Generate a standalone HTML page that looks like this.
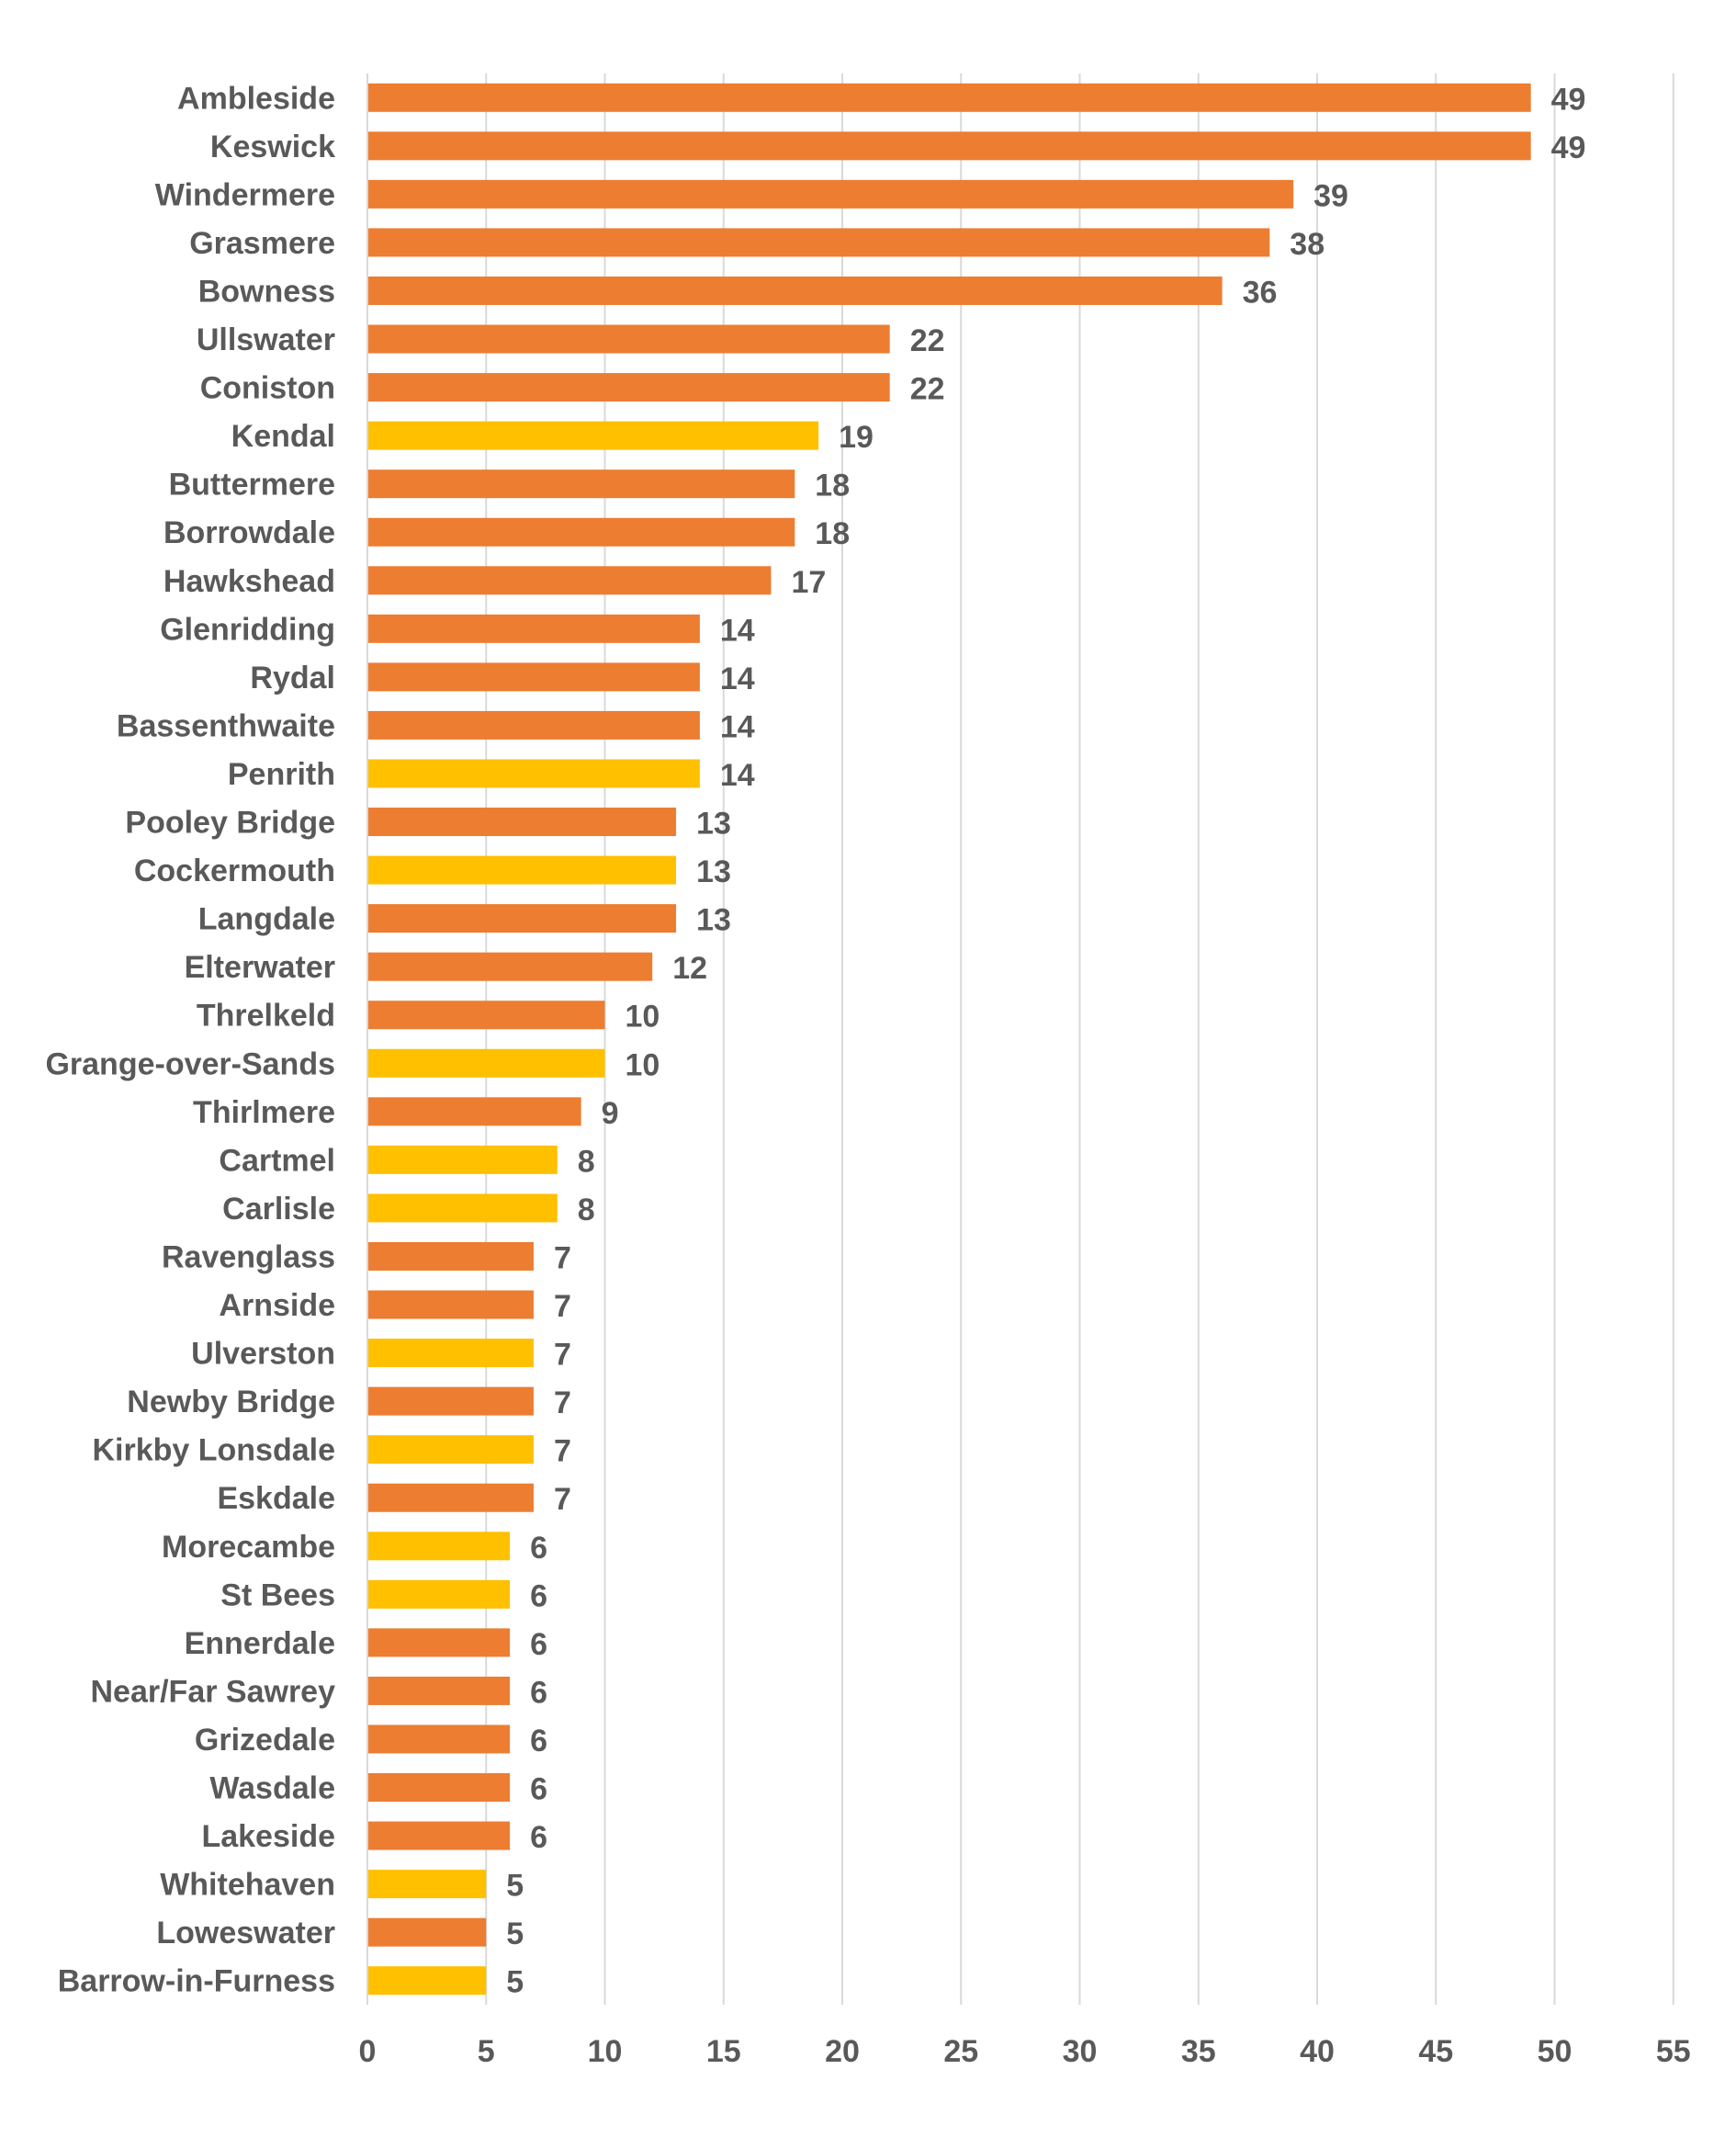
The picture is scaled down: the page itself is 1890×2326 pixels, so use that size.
<!DOCTYPE html>
<html><head><meta charset="utf-8"><style>
html,body{margin:0;padding:0;background:#fff;}
svg{display:block;}
text{font-family:"Liberation Sans",sans-serif;font-weight:bold;fill:#595959;}
</style></head><body>
<svg id="chart" width="1890" height="2326" viewBox="0 0 1890 2326" xmlns="http://www.w3.org/2000/svg">
<g id="grid"></g>
<g id="bars"></g>
<g id="labels"></g>
<g id="values"></g>
<g id="ticks"></g>
</svg>
<script>
const categories = ["Ambleside","Keswick","Windermere","Grasmere","Bowness","Ullswater","Coniston","Kendal","Buttermere","Borrowdale","Hawkshead","Glenridding","Rydal","Bassenthwaite","Penrith","Pooley Bridge","Cockermouth","Langdale","Elterwater","Threlkeld","Grange-over-Sands","Thirlmere","Cartmel","Carlisle","Ravenglass","Arnside","Ulverston","Newby Bridge","Kirkby Lonsdale","Eskdale","Morecambe","St Bees","Ennerdale","Near/Far Sawrey","Grizedale","Wasdale","Lakeside","Whitehaven","Loweswater","Barrow-in-Furness"];
const values = [49,49,39,38,36,22,22,19,18,18,17,14,14,14,14,13,13,13,12,10,10,9,8,8,7,7,7,7,7,7,6,6,6,6,6,6,6,5,5,5];
const townType = ["o","o","o","o","o","o","o","y","o","o","o","o","o","o","y","o","y","o","o","o","y","o","y","y","o","o","y","o","y","o","y","y","o","o","o","o","o","y","o","y"];
const tickValues = [0,5,10,15,20,25,30,35,40,45,50,55];

const NS="http://www.w3.org/2000/svg";
const x0=400, unit=25.85, plotTop=80, plotBottom=2182;
const band=(plotBottom-plotTop)/categories.length;
const xs=v=>x0+v*unit;
const yc=i=>plotTop+band*(i+0.5);
const barH=31;
function mk(tag,attrs,parent){const e=document.createElementNS(NS,tag);for(const k in attrs)e.setAttribute(k,attrs[k]);parent.appendChild(e);return e;}
const G=id=>document.getElementById(id);
tickValues.forEach(t=>{
  const l=mk("line",{x1:xs(t),x2:xs(t),y1:plotTop,y2:plotBottom,stroke:"#d9d9d9","stroke-width":2},G("grid"));
  
  
  const tx=mk("text",{x:xs(t),y:2244,"text-anchor":"middle","font-size":34},G("ticks"));
  tx.textContent=t;
  
  
});
categories.forEach((c,i)=>{
  const r=mk("rect",{x:xs(0)+1,y:yc(i)-barH/2,width:xs(values[i])-xs(0)-1,height:barH,fill:townType[i]==="y"?"#FFC000":"#ED7D31"},G("bars"));
  
  
  const t=mk("text",{x:365,y:yc(i)+12,"text-anchor":"end","font-size":34},G("labels"));
  t.textContent=c;
  
  
  const v=mk("text",{x:xs(values[i])+22,y:yc(i)+13,"font-size":34},G("values"));
  v.textContent=values[i];
  
  
});
</script>
</body></html>
